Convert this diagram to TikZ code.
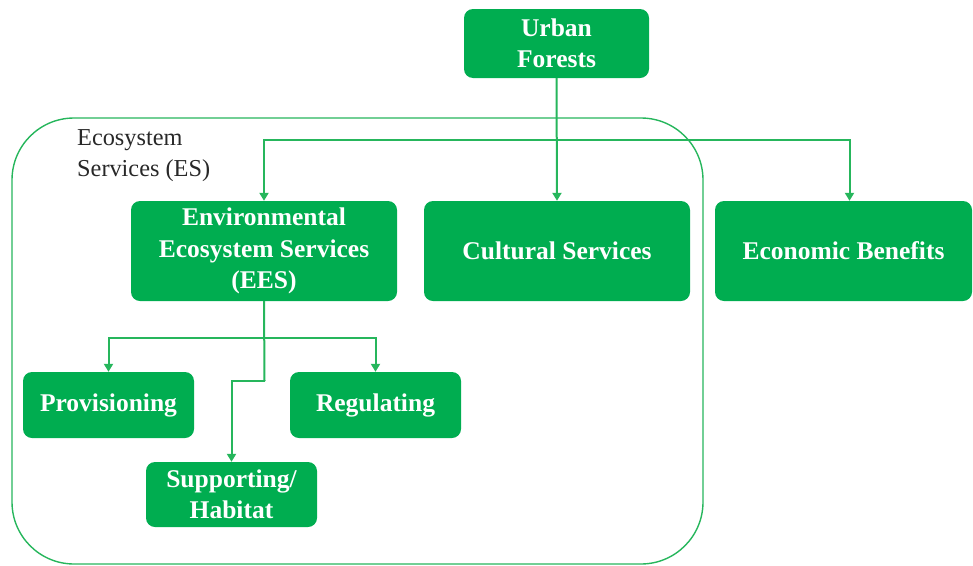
\documentclass[tikz,border=0pt]{standalone}
\usepackage{fontspec}
\setmainfont{Liberation Serif}
\usetikzlibrary{arrows.meta}
\definecolor{esgreen}{RGB}{0,173,80}
\definecolor{esline}{RGB}{38,182,92}
\definecolor{labelgray}{RGB}{40,40,40}

\begin{document}
\begin{tikzpicture}[x=1pt,y=-1pt,
  box/.style={fill=esgreen, rounded corners=9pt, text=white, inner sep=0pt,
    font=\bfseries\fontsize{25.5}{31.5}\selectfont, align=center},
  link/.style={draw=esline, line width=2pt, -{Triangle[length=8pt,width=9pt]}},
]
\useasboundingbox (0,0) rectangle (973,565);

% Ecosystem services frame and its caption
\draw[esline, line width=1.4pt, rounded corners=62pt] (12,118) rectangle (703,564);
\node[anchor=north west, align=left, text=labelgray, inner sep=0pt,
  font=\fontsize{24.3}{31}\selectfont] (eslabel) at (77,129) {Ecosystem\\Services (ES)};

% Boxes
\node[box, minimum width=185pt, minimum height=69pt] (urban) at (556.5,43.5) {Urban\\Forests};
\node[box, minimum width=266pt, minimum height=100pt] (ees) at (264,251) {Environmental\\Ecosystem Services\\(EES)};
\node[box, minimum width=266pt, minimum height=100pt] (cult) at (557,251) {Cultural Services};
\node[box, minimum width=257pt, minimum height=100pt] (econ) at (843.5,251) {Economic Benefits};
\node[box, minimum width=171pt, minimum height=66pt] (prov) at (108.5,405) {Provisioning};
\node[box, minimum width=171pt, minimum height=66pt] (reg) at (375.5,405) {Regulating};
\node[box, minimum width=171pt, minimum height=65pt] (supp) at (231.5,494.5) {Supporting/\\Habitat};

% Connectors from Urban Forests
\coordinate (ubus) at (557,140);
\draw[link] (urban.south) -- (cult.north);
\draw[link] (ubus) -| (ees.north);
\draw[link] (ubus) -| ([xshift=6pt]econ.north);

% Connectors from EES
\coordinate (ebus) at (264.5,337.5);
\coordinate (estep) at (264.5,381);
\draw[esline, line width=2pt] (ees.south) -- (estep);
\draw[link] (ebus) -| (prov.north);
\draw[link] (ebus) -| (reg.north);
\draw[link] (estep) -| (supp.north);
\end{tikzpicture}
\end{document}
